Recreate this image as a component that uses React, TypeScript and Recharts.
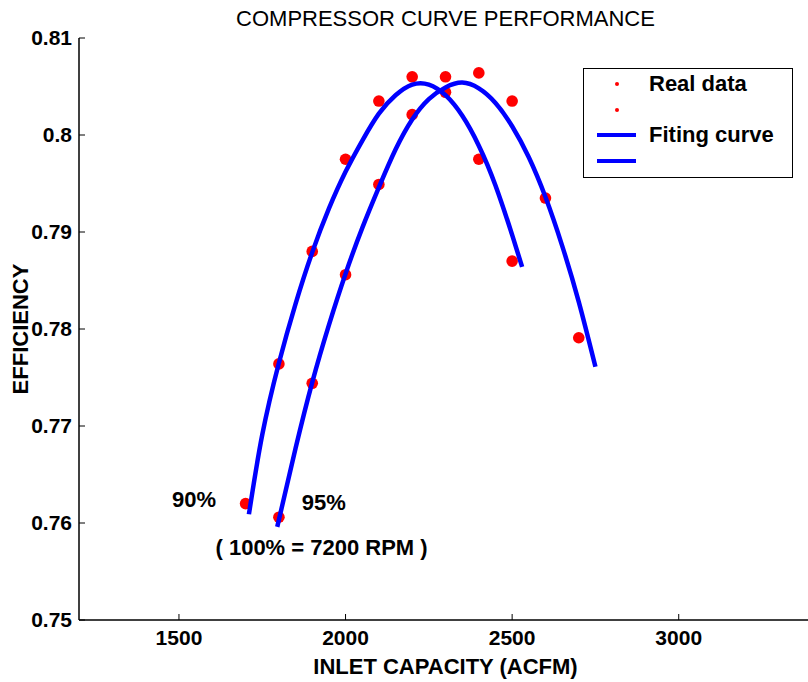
import {
  ComposedChart, Line, Scatter, XAxis, YAxis, Legend, ReferenceDot,
} from 'recharts';

const FONT = '"Liberation Sans", Arial, Helvetica, sans-serif';

const X_TICKS = [1500, 2000, 2500, 3000];
const Y_TICKS = [0.75, 0.76, 0.77, 0.78, 0.79, 0.8, 0.81];

// measured points, 90% speed line
const CAPACITY_90 = [1700, 1800, 1900, 2000, 2100, 2200, 2300, 2400, 2500];
const EFF_90 = [0.762, 0.7764, 0.788, 0.7975, 0.8035, 0.806, 0.8044, 0.7975, 0.787];

// measured points, 95% speed line
const CAPACITY_95 = [1800, 1900, 2000, 2100, 2200, 2300, 2400, 2500, 2600, 2700];
const EFF_95 = [0.7606, 0.7744, 0.7856, 0.7949, 0.8021, 0.806, 0.8064, 0.8035, 0.7935, 0.7791];

// fitted curves
const FIT_X_90 = [1710, 1750, 1800, 1850, 1900, 1950, 2000, 2050, 2100, 2150, 2200, 2250, 2300, 2350, 2400, 2450, 2500, 2530];
const FIT_Y_90 = [0.7609, 0.7691, 0.7765, 0.7826, 0.7879, 0.7924, 0.7962, 0.7994, 0.8022, 0.8041, 0.8052, 0.8052, 0.8041, 0.802, 0.7989, 0.7948, 0.7897, 0.7864];

const FIT_X_95 = [1795, 1850, 1900, 1950, 2000, 2050, 2100, 2150, 2200, 2250, 2300, 2350, 2400, 2450, 2500, 2550, 2600, 2650, 2700, 2750];
const FIT_Y_95 = [0.7596, 0.7677, 0.7745, 0.7804, 0.7857, 0.7904, 0.7946, 0.7985, 0.8016, 0.8037, 0.8049, 0.8054, 0.8048, 0.8033, 0.8009, 0.7977, 0.7936, 0.7886, 0.7828, 0.7761];

const NOTES = [
  { x: 1545, y: 0.7625, text: '90%' },
  { x: 1935, y: 0.7621, text: '95%' },
  { x: 1928, y: 0.7575, text: '( 100% = 7200 RPM )' },
];

const zip = (xs: number[], ys: number[]) => xs.map((x, i) => ({ x, y: ys[i] }));

const data90 = zip(CAPACITY_90, EFF_90);
const data95 = zip(CAPACITY_95, EFF_95);
const fit90 = zip(FIT_X_90, FIT_Y_90);
const fit95 = zip(FIT_X_95, FIT_Y_95);

const RED = '#ff0000';
const BLUE = '#0000ff';

const Dot = ({ cx, cy }: any) => <circle cx={cx} cy={cy} r={5.8} fill={RED} />;

// dots first, then lines; the named entry of each pair on top
const rank = (e: any) => (e.type === 'line' ? 2 : 0) + (String(e.value).trim() ? 0 : 1);

const LegendBox = ({ payload }: any) => {
  const items = [...(payload ?? [])].sort((a: any, b: any) => rank(a) - rank(b));
  return (
    <div
      style={{
        width: 210, height: 110, boxSizing: 'border-box', border: '1px solid #000',
        background: '#fff', paddingTop: 2.5, fontFamily: FONT,
      }}
    >
      {items.map((entry: any, i: number) => (
        <div key={i} style={{ height: 25.5, display: 'flex', alignItems: 'center' }}>
          <div style={{ width: 65, display: 'flex', justifyContent: 'center' }}>
            {entry.type === 'line' ? (
              <div style={{ width: 39, height: 4, background: entry.color }} />
            ) : (
              <div style={{ width: 4, height: 4, borderRadius: 2, background: entry.color }} />
            )}
          </div>
          <span style={{ fontSize: 22, fontWeight: 'bold', color: '#000', whiteSpace: 'pre' }}>
            {entry.value}
          </span>
        </div>
      ))}
    </div>
  );
};

export default function App() {
  const tickStyle = { fill: '#000', fontSize: 21, fontWeight: 'bold', fontFamily: FONT };
  return (
    <div style={{ position: 'absolute', left: 0, top: 0, width: 808, height: 682, overflow: 'hidden', background: '#fff' }}>
      <div
        style={{
          position: 'absolute', left: 79, width: 733, top: 8, textAlign: 'center',
          fontFamily: FONT, fontSize: 22, lineHeight: '22px', color: '#000',
        }}
      >
        COMPRESSOR CURVE PERFORMANCE
      </div>
      <ComposedChart width={813} height={682} margin={{ top: 38, right: 1, bottom: 0, left: 0 }}>
        <XAxis
          dataKey="x"
          type="number"
          domain={[1200, 3400]}
          ticks={X_TICKS}
          height={62}
          tickSize={-6}
          tickMargin={16}
          tick={tickStyle}
          axisLine={{ stroke: '#000', strokeWidth: 1.5 }}
          tickLine={{ stroke: '#000' }}
          label={{
            value: 'INLET CAPACITY (ACFM)', position: 'insideBottom', offset: 8,
            fontSize: 22, fontWeight: 'bold', fill: '#000', fontFamily: FONT,
          }}
        />
        <XAxis
          xAxisId="top"
          orientation="top"
          type="number"
          domain={[1200, 3400]}
          ticks={X_TICKS}
          height={0}
          tickSize={-6}
          tick={false}
          axisLine={{ stroke: '#000', strokeWidth: 1.5 }}
          tickLine={{ stroke: '#000' }}
        />
        <YAxis
          dataKey="y"
          type="number"
          domain={[0.75, 0.81]}
          ticks={Y_TICKS}
          width={79}
          tickSize={-6}
          tickMargin={13}
          tick={tickStyle}
          tickFormatter={(v: number) => String(v)}
          axisLine={{ stroke: '#000', strokeWidth: 1.5 }}
          tickLine={{ stroke: '#000' }}
          label={{
            value: 'EFFICIENCY', angle: -90, position: 'insideLeft', offset: 20,
            fontSize: 22, fontWeight: 'bold', fill: '#000', fontFamily: FONT,
            style: { textAnchor: 'middle' },
          }}
        />
        <YAxis
          yAxisId="right"
          orientation="right"
          type="number"
          domain={[0.75, 0.81]}
          ticks={Y_TICKS}
          width={0}
          tickSize={-6}
          tick={false}
          axisLine={{ stroke: '#000', strokeWidth: 1.5 }}
          tickLine={{ stroke: '#000' }}
        />
        <Legend
          content={<LegendBox />}
          layout="horizontal"
          verticalAlign="middle"
          align="center"
          wrapperStyle={{ left: 583, top: 68, width: 210, height: 110 }}
        />
        <Scatter name="Real data" data={data90} fill={RED} shape={<Dot />} zIndex={350} isAnimationActive={false} />
        <Scatter name=" " data={data95} fill={RED} shape={<Dot />} zIndex={350} isAnimationActive={false} />
        <Line
          name="Fiting curve" data={fit90} dataKey="y" type="natural" stroke={BLUE} zIndex={400}
          strokeWidth={4.5} dot={false} activeDot={false} isAnimationActive={false}
        />
        <Line
          name=" " data={fit95} dataKey="y" type="natural" stroke={BLUE} zIndex={400}
          strokeWidth={4.5} dot={false} activeDot={false} isAnimationActive={false}
        />
        {NOTES.map((n) => (
          <ReferenceDot
            key={n.text}
            x={n.x}
            y={n.y}
            r={0}
            stroke="none"
            fill="none"
            label={{
              value: n.text, position: 'center', fontSize: 22, fontWeight: 'bold',
              fill: '#000', fontFamily: FONT,
            }}
          />
        ))}
      </ComposedChart>
    </div>
  );
}
